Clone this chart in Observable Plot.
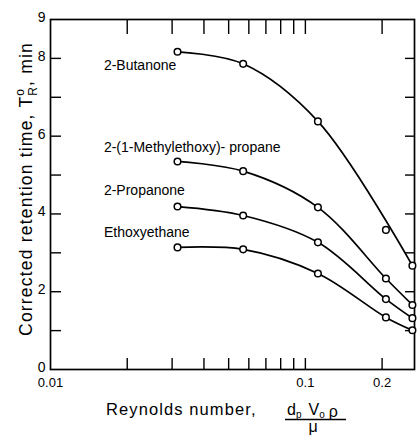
<!DOCTYPE html>
<html><head><meta charset="utf-8">
<script src="https://cdn.jsdelivr.net/npm/d3@7"></script>
<script src="https://cdn.jsdelivr.net/npm/@observablehq/plot@0.6"></script>
<style>body{margin:0;background:#fff} svg{display:block}</style>
</head><body><div id="chart"></div>
<script>
// Reynolds numbers of the measurements
const reynolds = [0.0315, 0.057, 0.112, 0.207, 0.263];
// Corrected retention times (min)
const butanone = [8.17, 7.86, 6.38, null, 2.67];
const methylethoxypropane = [5.35, 5.10, 4.17, 2.34, 1.66];
const propanone = [4.19, 3.96, 3.27, 1.81, 1.32];
const ethoxyethane = [3.14, 3.09, 2.47, 1.34, 1.01];
// off-curve 2-butanone reading at reynolds[3]
const butanoneStray = [3.59];

const seriesNames = ["2-Butanone", "2-(1-Methylethoxy)- propane", "2-Propanone", "Ethoxyethane"];
const seriesValues = [butanone, methylethoxypropane, propanone, ethoxyethane];
const labelX = [0.0162, 0.0162, 0.0162, 0.0162];
const labelY = [7.82, 5.70, 4.60, 3.51];

const yMinorTicks = [1, 2, 3, 4, 5, 6, 7, 8];
const yTickLabels = [0, 2, 4, 6, 8, 9];
const xMinorTicks = [0.02, 0.03, 0.04, 0.05, 0.06, 0.07, 0.08, 0.09, 0.1, 0.2];
const xTickLabels = [0.01, 0.1, 0.2];

const rows = [];
seriesValues.forEach((vals, i) => reynolds.forEach((x, j) => {
  if (vals[j] != null) rows.push({series: seriesNames[i], re: x, t: vals[j]});
}));
const stray = butanoneStray.map(t => ({re: reynolds[3], t}));
const labels = seriesNames.map((name, i) => ({name, re: labelX[i], t: labelY[i]}));

const font = "'Liberation Sans', Arial, sans-serif";
const plot = Plot.plot({
  width: 417, height: 435,
  marginLeft: 50, marginRight: 3, marginTop: 19, marginBottom: 66,
  style: {fontFamily: font, background: "#fff", color: "#000"},
  x: {type: "log", domain: [0.01, 0.268], label: null},
  y: {domain: [0, 9], label: null},
  marks: [
    Plot.axisY(yMinorTicks, {anchor: "left", tickSize: -11, tickFormat: () => "", label: null, strokeWidth: 1.4}),
    Plot.axisY(yMinorTicks, {anchor: "right", tickSize: -10, tickFormat: () => "", label: null, strokeWidth: 1.4}),
    Plot.axisY(yTickLabels, {anchor: "left", tickSize: 0, tickPadding: 5, fontSize: 14, dy: -2, label: null, tickFormat: d => String(d)}),
    Plot.axisX(xMinorTicks, {anchor: "bottom", tickSize: -11, tickFormat: () => "", label: null, strokeWidth: 1.4}),
    Plot.axisX(xMinorTicks, {anchor: "top", tickSize: -14, tickFormat: () => "", label: null, strokeWidth: 1.4}),
    Plot.axisX(xTickLabels, {anchor: "bottom", tickSize: 0, tickPadding: 8, fontSize: 13, label: null, tickFormat: d => String(d)}),
    Plot.frame({stroke: "#000", strokeWidth: 1.7}),
    Plot.line(rows, {x: "re", y: "t", z: "series", curve: "catmull-rom", stroke: "#000", strokeWidth: 1.7}),
    Plot.dot(rows, {x: "re", y: "t", r: 3.3, stroke: "#000", fill: "#fff", strokeWidth: 1.5}),
    Plot.dot(stray, {x: "re", y: "t", r: 3.3, stroke: "#000", fill: "#fff", strokeWidth: 1.5}),
    Plot.text(labels, {x: "re", y: "t", text: "name", textAnchor: "start", fontSize: 14, fill: "#000", style: "letter-spacing:1.1px"})
  ]
});
document.getElementById("chart").appendChild(plot);

const svg = d3.select(plot);
// y-axis title
const yt = svg.append("text")
  .attr("transform", "translate(32,189) rotate(-90)")
  .attr("text-anchor", "middle")
  .style("font-family", font).style("font-size", "17.5px").style("letter-spacing", "1.2px").attr("fill", "#000");
yt.append("tspan").text("Corrected retention time, T");
yt.append("tspan").attr("dy", -8).style("font-size", "12px").text("o");
yt.append("tspan").attr("dx", -8).attr("dy", 13).style("font-size", "12px").text("R");
yt.append("tspan").attr("dy", -5).text(", min");

// x-axis title
const xt = svg.append("text")
  .attr("x", 106).attr("y", 415).attr("text-anchor", "start")
  .style("font-family", font).style("font-size", "16.5px").style("letter-spacing", "1.1px").attr("fill", "#000");
xt.append("tspan").text("Reynolds number,");
const num = svg.append("text").attr("x", 287).attr("y", 415).attr("text-anchor", "start")
  .style("font-family", font).style("font-size", "16px").attr("fill", "#000");
num.append("tspan").text("d");
num.append("tspan").attr("dy", 3).style("font-size", "10px").text("p");
num.append("tspan").attr("dx", 7).attr("dy", -3).text("V");
num.append("tspan").attr("dy", 3).style("font-size", "10px").text("o");
num.append("tspan").attr("dx", 4).attr("dy", -1).text("ρ");
svg.append("line").attr("x1", 285).attr("x2", 346).attr("y1", 419.5).attr("y2", 419.5)
  .attr("stroke", "#000").attr("stroke-width", 1.5);
svg.append("text").attr("x", 313).attr("y", 432).attr("text-anchor", "middle")
  .style("font-family", font).style("font-size", "16px").attr("fill", "#000").text("μ");
</script>
</body></html>
